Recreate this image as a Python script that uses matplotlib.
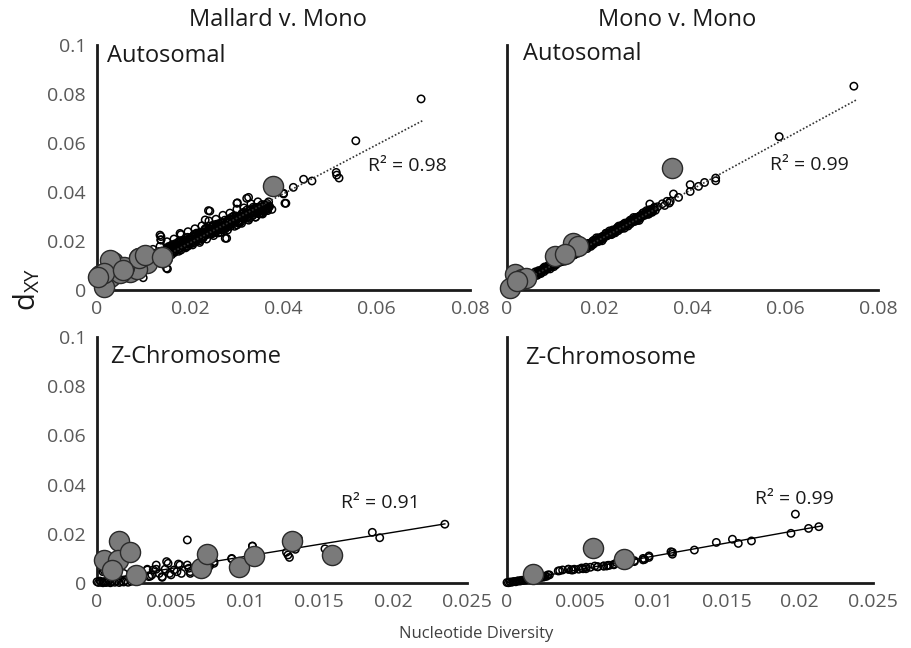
import numpy as np
import matplotlib

matplotlib.use("Agg")
import matplotlib.pyplot as plt

plt.rcParams["font.family"] = ["Open Sans", "DejaVu Sans"]

# ---- tick labels ----
auto_xticks = [0, 0.02, 0.04, 0.06, 0.08]
auto_xlabels = ["0", "0.02", "0.04", "0.06", "0.08"]
z_xticks = [0, 0.005, 0.01, 0.015, 0.02, 0.025]
z_xlabels = ["0", "0.005", "0.01", "0.015", "0.02", "0.025"]
yticks = [0, 0.02, 0.04, 0.06, 0.08, 0.1]
ylabels = ["0", "0.02", "0.04", "0.06", "0.08", "0.1"]

# ---- Mallard v. Mono, autosomal (values in units of 1e-4) ----
mm_auto_band_x = [
    40, 42, 44, 46, 48, 50, 52, 54, 56, 58, 60, 62, 64, 66, 68, 70, 72, 74, 76, 78,
    80, 82, 84, 86, 88, 90, 92, 94, 96, 98, 100, 102, 104, 106, 108, 110, 112, 114, 116, 118,
    120, 122, 124, 126, 128, 130, 132, 134, 136, 138, 140, 142, 144, 146, 148, 150, 152, 154, 156, 158,
    160, 162, 164, 166, 168, 170, 172, 174, 176, 178, 180, 182, 184, 186, 188, 190, 192, 194, 196, 198,
    200, 202, 204, 206, 208, 210, 212, 214, 216, 218, 220, 222, 224, 226, 228, 230, 232, 234, 236, 238,
    240, 242, 244, 246, 248, 250, 252, 254, 256, 258, 260, 262, 264, 266, 268, 270, 272, 274, 276, 278,
    280, 282, 284, 286, 288, 290, 292, 294, 296, 298, 300, 302, 304, 306, 308, 310, 312, 314, 316, 318,
    320, 322, 324, 326, 328, 330, 332, 334, 336, 338, 340, 342, 344, 346, 348, 350, 352, 354, 356, 358,
    360, 362, 364, 366, 368, 370,
]
mm_auto_band_y = [
    64, 45, 60, 42, 78, 58, 71, 53, 68, 84, 52, 79, 69, 86, 64, 82, 81, 104, 78, 93,
    101, 82, 97, 79, 115, 96, 109, 90, 105, 121, 89, 116, 106, 124, 101, 119, 118, 141, 115, 130,
    139, 119, 134, 116, 152, 133, 146, 128, 142, 158, 126, 153, 143, 161, 139, 157, 155, 178, 152, 167,
    176, 157, 172, 153, 189, 170, 183, 165, 180, 196, 163, 190, 180, 198, 176, 194, 193, 215, 189, 204,
    213, 194, 209, 191, 226, 207, 220, 202, 217, 233, 201, 227, 217, 235, 213, 231, 230, 253, 226, 241,
    250, 231, 246, 228, 264, 240, 252, 234, 249, 265, 233, 260, 250, 267, 245, 263, 262, 285, 259, 274,
    282, 263, 278, 260, 296, 277, 290, 271, 286, 302, 265, 292, 282, 300, 277, 295, 294, 317, 291, 306,
    315, 295, 310, 292, 328, 309, 322, 304, 318, 334, 297, 324, 314, 332, 310, 328, 326, 349, 323, 338,
    347, 328, 343, 324, 360, 341,
]
mm_auto_band2_x = [
    41, 45, 49, 53, 57, 61, 65, 69, 73, 77, 81, 85, 89, 93, 97, 101, 105, 109, 113, 117,
    121, 125, 129, 133, 137, 141, 145, 149, 153, 157, 161, 165, 169, 173, 177, 181, 185, 189, 193, 197,
    201, 205, 209, 213, 217, 221, 225, 229, 233, 237, 241, 245, 249, 253, 257, 261, 265, 269, 273, 277,
    281, 285, 289, 293, 297, 301, 305, 309, 313, 317, 321, 325, 329, 333, 337, 341, 345, 349, 353, 357,
    361, 365, 369,
]
mm_auto_band2_y = [
    39, 67, 56, 82, 58, 75, 58, 87, 97, 85, 110, 86, 99, 89, 115, 126, 108, 128, 104, 129,
    114, 143, 131, 157, 133, 151, 133, 162, 172, 161, 185, 161, 174, 165, 190, 201, 183, 204, 179, 204,
    189, 218, 206, 232, 208, 226, 208, 237, 247, 236, 261, 236, 244, 235, 261, 271, 253, 274, 250, 274,
    259, 288, 277, 302, 278, 291, 274, 302, 312, 301, 326, 301, 314, 305, 331, 337, 318, 339, 315, 340,
    324, 353, 342,
]
mm_auto_band3_x = [
    43, 47, 51, 55, 59, 63, 67, 71, 75, 79, 83, 87, 91, 95, 99, 103, 107, 111, 115, 119,
    123, 127, 131, 135, 139, 143, 147, 151, 155, 159, 163, 167, 171, 175, 179, 183, 187, 191, 195, 199,
    203, 207, 211, 215, 219, 223, 227, 231, 235, 239, 243, 247, 251, 255, 259, 263, 267, 271, 275, 279,
    283, 287, 291, 295, 299, 303, 307, 311, 315, 319, 323, 327, 331, 335, 339, 343, 347, 351, 355, 359,
    363, 367,
]
mm_auto_band3_y = [
    55, 48, 77, 63, 78, 58, 84, 98, 77, 91, 80, 109, 99, 122, 98, 117, 129, 112, 104, 136,
    131, 123, 152, 138, 154, 133, 159, 173, 153, 166, 155, 184, 174, 197, 173, 192, 204, 188, 179, 211,
    206, 199, 227, 213, 229, 209, 234, 248, 228, 242, 230, 259, 244, 268, 243, 262, 274, 258, 249, 281,
    276, 269, 298, 283, 299, 274, 300, 313, 293, 307, 296, 324, 314, 338, 314, 327, 339, 323, 315, 346,
    341, 334,
]
mm_auto_halo_x = [
    60, 75, 90, 105, 120, 135, 150, 165, 180, 195, 210, 225, 240, 255, 270, 285, 300, 315, 330, 345,
    70, 85, 100, 115, 130, 145, 160, 175, 190, 205, 220, 235, 250, 265, 280, 295, 310, 325, 340, 355,
]
mm_auto_halo_y = [
    105, 118, 137, 150, 166, 178, 197, 208, 226, 238, 250, 262, 282, 289, 305, 314, 330, 335, 352, 360,
    58, 70, 84, 97, 116, 128, 144, 158, 172, 184, 194, 208, 222, 235, 245, 260, 272, 285, 298, 310,
]
mm_auto_open_x = [
    5, 10, 15, 20, 25, 30, 35,
    695, 555, 513, 514, 519, 461, 443, 421, 405, 400, 375, 321, 301, 242, 278, 137, 137, 149, 99,
    135, 137, 151, 239, 275, 300, 325, 403, 400, 178, 232,
]
mm_auto_open_y = [
    8, 12, 15, 20, 22, 30, 31,
    780, 609, 480, 469, 457, 445, 452, 419, 354, 395, 329, 374, 356, 322, 211, 218, 205, 89, 50,
    224, 204, 86, 324, 211, 354, 378, 354, 392, 231, 286,
]
mm_auto_gray_x = [
    377, 140, 91, 34, 6, 28, 15, 71, 42, 107, 49, 86, 58,
    28, 14, 3, 89, 103, 139, 56,
]
mm_auto_gray_y = [
    426, 136, 129, 116, 61, 54, 13, 75, 95, 109, 68, 84, 95,
    122, 68, 54, 129, 143, 133, 82,
]

# ---- Mono v. Mono, autosomal ----
vv_auto_band_x = [
    2, 5, 10, 15,
    20, 22, 24, 26, 28, 30, 32, 34, 36, 38, 40, 42, 44, 46, 48, 50, 52, 54, 56, 58,
    60, 62, 64, 66, 68, 70, 72, 74, 76, 78, 80, 82, 84, 86, 88, 90, 92, 94, 96, 98,
    100, 102, 104, 106, 108, 110, 112, 114, 116, 118, 120, 122, 124, 126, 128, 130, 132, 134, 136, 138,
    140, 142, 144, 146, 148, 150, 152, 154, 156, 158, 160, 162, 164, 166, 168, 170, 172, 174, 176, 178,
    180, 182, 184, 186, 188, 190, 192, 194, 196, 198, 200, 202, 204, 206, 208, 210, 212, 214, 216, 218,
    220, 222, 224, 226, 228, 230, 232, 234, 236, 238, 240, 242, 244, 246, 248, 250, 252, 254, 256, 258,
    260, 262, 264, 266, 268, 270, 272, 274, 276, 278, 280, 282, 284, 286, 288, 290, 292, 294, 296, 298,
    300, 302, 304, 306, 308, 310, 312, 314, 316, 318, 320,
    325, 335, 340, 345, 350,
]
vv_auto_band_y = [
    3, 6, 11, 16,
    26, 19, 27, 20, 37, 30, 37, 29, 37, 47, 34, 47, 43, 53, 44, 53, 54, 65, 54, 62,
    67, 60, 69, 62, 79, 72, 79, 71, 79, 88, 75, 88, 84, 94, 86, 95, 96, 107, 96, 104,
    109, 102, 110, 103, 120, 113, 120, 113, 121, 130, 117, 130, 126, 136, 127, 136, 137, 148, 137, 146,
    151, 144, 152, 145, 162, 155, 162, 154, 162, 171, 158, 171, 168, 178, 169, 178, 179, 190, 179, 187,
    192, 185, 193, 186, 204, 197, 204, 196, 204, 213, 200, 213, 209, 219, 210, 219, 220, 232, 221, 229,
    234, 227, 235, 228, 245, 238, 245, 237, 245, 255, 242, 255, 251, 261, 252, 261, 262, 273, 262, 270,
    275, 268, 277, 270, 287, 280, 287, 279, 287, 296, 283, 296, 292, 302, 294, 303, 304, 315, 304, 312,
    317, 310, 318, 311, 328, 321, 328, 321, 329, 338, 325,
    340, 352, 345, 362, 355,
]
vv_auto_band2_x = [
    21, 25, 29, 33, 37, 41, 45, 49, 53, 57, 61, 65, 69, 73, 77, 81, 85, 89, 93, 97,
    101, 105, 109, 113, 117, 121, 125, 129, 133, 137, 141, 145, 149, 153, 157, 161, 165, 169, 173, 177,
    181, 185, 189, 193, 197, 201, 205, 209, 213, 217, 221, 225, 229, 233, 237, 241, 245, 249, 253, 257,
    261, 265, 269, 273, 277, 281, 285, 289, 293, 297, 301, 305, 309, 313, 317,
]
vv_auto_band2_y = [
    12, 34, 27, 46, 32, 45, 35, 55, 64, 58, 74, 60, 72, 67, 85, 94, 84, 100, 86, 104,
    95, 117, 110, 130, 116, 128, 118, 138, 147, 141, 158, 143, 155, 150, 168, 177, 168, 183, 169, 187,
    178, 200, 194, 213, 199, 211, 201, 221, 231, 225, 241, 226, 238, 233, 251, 261, 251, 266, 252, 270,
    261, 284, 277, 296, 282, 294, 284, 305, 314, 308, 324, 309, 321, 317, 335,
]
vv_auto_open_x = [748, 587, 450, 450, 426, 413, 395, 395, 370, 359, 352, 308]
vv_auto_open_y = [832, 626, 457, 446, 439, 423, 430, 402, 378, 392, 362, 351]
vv_auto_gray_x = [356, 143, 154, 104, 125, 17, 6, 32, 42, 21]
vv_auto_gray_y = [497, 192, 179, 138, 145, 64, 9, 43, 50, 37]

# ---- Mallard v. Mono, Z (units of 1e-4) ----
mm_z_open_x = [
    0, 1, 2, 3, 4, 5, 6, 7, 8, 9, 10, 12, 13, 15, 16, 18, 19, 21, 23, 26,
    235, 186, 191, 154, 136, 134, 128, 129, 130, 105, 91, 79, 76, 61,
    62, 56, 54, 48, 46, 44, 40, 37, 34, 35, 38, 52, 63, 42, 49,
    5, 18, 30, 47, 55, 61, 63, 57, 50, 44, 36, 34, 40, 79, 91, 105, 4,
]
mm_z_open_y = [
    5, 2, 8, 3, 1, 6, 2, 4, 9, 1, 5, 3, 8, 2, 6, 4, 10, 3, 7, 12,
    239, 206, 184, 139, 182, 137, 125, 114, 104, 150, 98, 80, 69, 175,
    60, 73, 46, 80, 56, 26, 73, 33, 56, 26, 53, 53, 39, 39, 39,
    50, 39, 15, 87, 77, 73, 46, 39, 33, 23, 28, 53, 56, 87, 100, 150, 46,
]
mm_z_gray_x = [15, 5, 14, 22, 10, 26, 70, 74, 96, 106, 132, 159]
mm_z_gray_y = [172, 94, 94, 125, 53, 33, 60, 118, 66, 110, 172, 113]

# ---- Mono v. Mono, Z ----
vv_z_open_x = [
    0, 1, 2, 3, 4, 5, 6, 7, 8, 9, 10, 11, 12, 13, 14, 15, 16, 17, 18, 19,
    20, 21, 22, 23, 24, 25, 27,
    197, 213, 206, 194, 167, 158, 154, 143, 128, 113, 113, 97, 94, 93, 87,
    75, 73, 70, 68, 66, 62, 60, 57, 54, 51, 46, 44, 42, 36, 29, 26,
    28, 35, 38, 42, 45, 49, 52, 54, 62, 66, 69, 73, 87, 93, 97, 112,
]
vv_z_open_y = [
    2, 1, 4, 3, 5, 6, 5, 8, 9, 8, 11, 10, 13, 12, 15, 14, 17, 16, 19, 18,
    21, 20, 23, 22, 25, 24, 27,
    280, 229, 222, 202, 171, 161, 178, 165, 134, 125, 117, 104, 96, 94, 87,
    83, 76, 72, 69, 69, 66, 69, 64, 64, 61, 56, 53, 56, 50, 33, 28,
    33, 49, 53, 56, 53, 56, 58, 58, 66, 69, 72, 74, 91, 100, 110, 127,
]
vv_z_gray_x = [59, 80, 18]
vv_z_gray_y = [142, 98, 37]

# ---- trend lines (slope, intercept, x range) and labels ----
trend_slope = [1.0, 1.03, 0.98, 1.07]
trend_intercept = [-0.0007, 0.0, 0.001, 0.0002]
trend_x_start = [0.004, 0.002, 0.0, 0.0]
trend_x_end = [0.0698, 0.0753, 0.0235, 0.0215]
r2_labels = ["R\u00b2 = 0.98", "R\u00b2 = 0.99", "R\u00b2 = 0.91", "R\u00b2 = 0.99"]
r2_pos_x = [0.0581, 0.0567, 0.01647, 0.01694]
r2_pos_y = [0.0507, 0.0511, 0.0326, 0.0341]
panel_labels = ["Autosomal", "Autosomal", "Z-Chromosome", "Z-Chromosome"]
label_pos_x = [0.027, 0.043, 0.035, 0.049]
label_pos_y = [0.957, 0.965, 0.92, 0.915]

SCALE = 1e-4
TEXT = "#1a1a1a"
TICK = "#595959"


def draw_panel(ax, open_x, open_y, gray_x, gray_y, idx, xticks, xlabels,
               show_y, line_style):
    ox = np.array(open_x) * SCALE
    oy = np.array(open_y) * SCALE
    # white fills first, then the rings, so dense clouds read as solid black
    ax.scatter(ox, oy, s=28, facecolor="white", edgecolor="none",
               zorder=3, clip_on=False)
    ax.scatter(ox, oy, s=28, facecolor="none", edgecolor="black", linewidth=1.1,
               zorder=3.1, clip_on=False)
    ax.scatter(np.array(gray_x) * SCALE, np.array(gray_y) * SCALE, s=210,
               facecolor="#7a7a7a", edgecolor="#2a2a2a", linewidth=1.0,
               zorder=4, clip_on=False)

    # trend line sits over the open rings but under the grey markers
    lx = np.array([trend_x_start[idx], trend_x_end[idx]])
    ly = trend_slope[idx] * lx + trend_intercept[idx]
    if line_style == "dotted":
        ax.plot(lx, ly, color="#333333", linewidth=1.2, linestyle=(0, (1, 1.2)), zorder=3.5)
    else:
        ax.plot(lx, ly, color="black", linewidth=1.0, zorder=3.5)

    ax.text(r2_pos_x[idx], r2_pos_y[idx], r2_labels[idx], fontsize=14,
            color=TEXT, va="center", ha="left")
    ax.text(label_pos_x[idx], label_pos_y[idx], panel_labels[idx],
            transform=ax.transAxes, fontsize=17, color=TEXT, va="center", ha="left")

    ax.set_xlim(0, xticks[-1])
    ax.set_ylim(0, 0.1)
    ax.set_xticks(xticks)
    ax.set_xticklabels(xlabels)
    ax.set_yticks(yticks)
    if show_y:
        ax.set_yticklabels(ylabels)
    else:
        ax.set_yticklabels([])
    ax.tick_params(length=0, labelsize=14, colors=TICK)
    ax.tick_params(axis="x", pad=7)
    ax.tick_params(axis="y", pad=8)
    for side in ["top", "right"]:
        ax.spines[side].set_visible(False)
    for side in ["left", "bottom"]:
        ax.spines[side].set_linewidth(2.0)
        ax.spines[side].set_color("#1a1a1a")


fig = plt.figure(figsize=(9.12, 6.48), dpi=100)
ax_tl = fig.add_axes([0.1064, 0.5525, 0.409, 0.378])
ax_tr = fig.add_axes([0.5559, 0.5525, 0.4068, 0.378])
ax_bl = fig.add_axes([0.1064, 0.1003, 0.4057, 0.3796])
ax_br = fig.add_axes([0.5559, 0.1003, 0.4013, 0.3796])

draw_panel(ax_tl,
           mm_auto_band_x + mm_auto_band2_x + mm_auto_band3_x + mm_auto_halo_x + mm_auto_open_x,
           mm_auto_band_y + mm_auto_band2_y + mm_auto_band3_y + mm_auto_halo_y + mm_auto_open_y,
           mm_auto_gray_x, mm_auto_gray_y, 0, auto_xticks, auto_xlabels,
           True, "dotted")
draw_panel(ax_tr,
           vv_auto_band_x + vv_auto_band2_x + vv_auto_open_x,
           vv_auto_band_y + vv_auto_band2_y + vv_auto_open_y,
           vv_auto_gray_x, vv_auto_gray_y, 1, auto_xticks, auto_xlabels,
           False, "dotted")
draw_panel(ax_bl, mm_z_open_x, mm_z_open_y, mm_z_gray_x, mm_z_gray_y, 2,
           z_xticks, z_xlabels, True, "solid")
draw_panel(ax_br, vv_z_open_x, vv_z_open_y, vv_z_gray_x, vv_z_gray_y, 3,
           z_xticks, z_xlabels, False, "solid")

fig.text(0.305, 0.969, "Mallard v. Mono", fontsize=17, color=TEXT, ha="center", va="center")
fig.text(0.743, 0.969, "Mono v. Mono", fontsize=17, color=TEXT, ha="center", va="center")
fig.text(0.522, 0.022, "Nucleotide Diversity", fontsize=12, color="#404040",
         ha="center", va="center")
fig.text(0.029, 0.553, r"$\mathregular{d_{XY}}$", fontsize=21, color=TEXT,
         rotation=90, ha="center", va="center")

plt.savefig("out.png", dpi=100)
plt.close()
